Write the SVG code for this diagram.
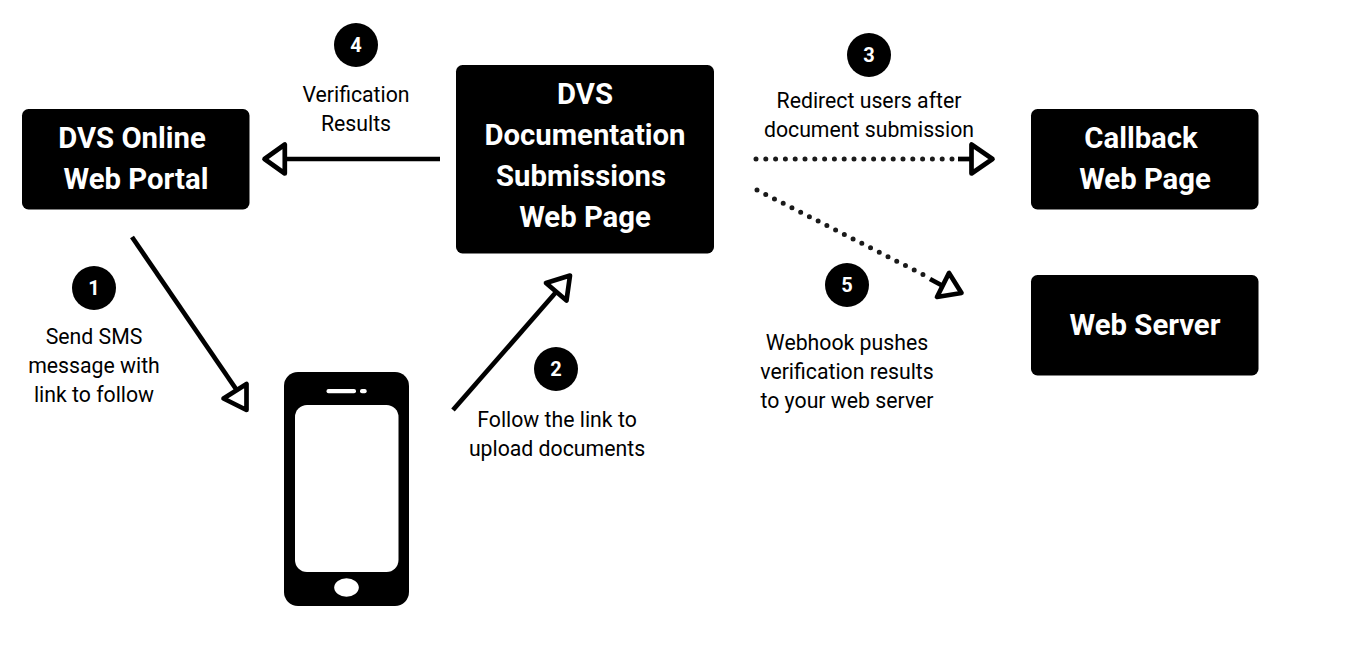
<svg xmlns="http://www.w3.org/2000/svg" width="1350" height="650" viewBox="0 0 1350 650">
<style>
.box{fill:#000}
.t{font-family:Roboto,"Liberation Sans",sans-serif;text-anchor:middle}
.h{font-size:29.3px;font-weight:700;fill:#fff}
.l{font-size:21.25px;fill:#000}
.n{font-size:20px;font-weight:700;fill:#fff}
.c{fill:none;stroke:#000;stroke-width:4.700}
.d{fill:none;stroke:#1a1a1a;stroke-width:5;stroke-dasharray:0 9.8;stroke-linecap:round}
.a{fill:none;stroke:#000;stroke-width:4.700;stroke-linejoin:round}
</style>
<rect width="1350" height="650" fill="#fff"/>
<g id="connectors">
<path class="c" d="M440 159H285"/><path class="a" d="M264.500 159L284.800 144.500V173.500Z"/>
<path class="c" d="M132 237L236 389"/><path class="a" d="M223.500 398.500L246.500 384V410Z"/>
<path class="c" d="M453 410L557 291"/><path class="a" d="M570 275.500L546 283L566.500 300.500Z"/>
<path class="d" d="M756 159H955"/><path class="c" d="M958 159H972"/><path class="a" d="M992.500 159L971.500 144.500V173.500Z"/>
<path class="d" d="M757 190L924 275"/><path class="c" d="M930 279L943 286"/><path class="a" d="M961.500 293L949 273L937 297Z"/>
</g>
<g id="portal"><rect class="box" x="22" y="109" width="227.500" height="100.500" rx="6.500"/><text class="t h" x="132" y="148">DVS Online</text><text class="t h" x="136" y="189">Web Portal</text></g>
<g id="submissions"><rect class="box" x="456" y="65" width="258" height="188.500" rx="6.500"/><text class="t h" x="585" y="104">DVS</text><text class="t h" x="585" y="145">Documentation</text><text class="t h" x="581" y="186">Submissions</text><text class="t h" x="585" y="227">Web Page</text></g>
<g id="callback"><rect class="box" x="1031" y="109" width="227.500" height="100.500" rx="6.500"/><text class="t h" x="1141" y="148">Callback</text><text class="t h" x="1145" y="189">Web Page</text></g>
<g id="server"><rect class="box" x="1031" y="275" width="227.500" height="100.500" rx="6.500"/><text class="t h" x="1145" y="335">Web Server</text></g>
<g id="phone"><rect class="box" x="284" y="372" width="125" height="234" rx="14"/><rect x="295" y="405" width="103.500" height="167" rx="12" fill="#fff"/><rect x="326.500" y="389" width="29.500" height="4.300" rx="2" fill="#fff"/><rect x="360" y="389" width="6.700" height="4.300" rx="2" fill="#fff"/><ellipse cx="346.500" cy="587.500" rx="12.300" ry="9.200" fill="#fff"/></g>
<g id="step1"><circle cx="94" cy="288" r="22"/><text class="t n" x="94" y="295">1</text><text class="t l" x="94" y="344">Send SMS</text><text class="t l" x="94" y="373">message with</text><text class="t l" x="94" y="402">link to follow</text></g>
<g id="step2"><circle cx="556" cy="369" r="22"/><text class="t n" x="556" y="376">2</text><text class="t l" x="557" y="427">Follow the link to</text><text class="t l" x="557" y="456">upload documents</text></g>
<g id="step3"><circle cx="869" cy="55" r="22"/><text class="t n" x="869" y="62">3</text><text class="t l" x="869" y="108">Redirect users after</text><text class="t l" x="869" y="137">document submission</text></g>
<g id="step4"><circle cx="356" cy="45" r="22"/><text class="t n" x="356" y="52">4</text><text class="t l" x="356" y="102">Verification</text><text class="t l" x="356" y="131">Results</text></g>
<g id="step5"><circle cx="847" cy="285" r="22"/><text class="t n" x="847" y="292">5</text><text class="t l" x="847" y="350">Webhook pushes</text><text class="t l" x="847" y="379">verification results</text><text class="t l" x="847" y="408">to your web server</text></g>
</svg>
